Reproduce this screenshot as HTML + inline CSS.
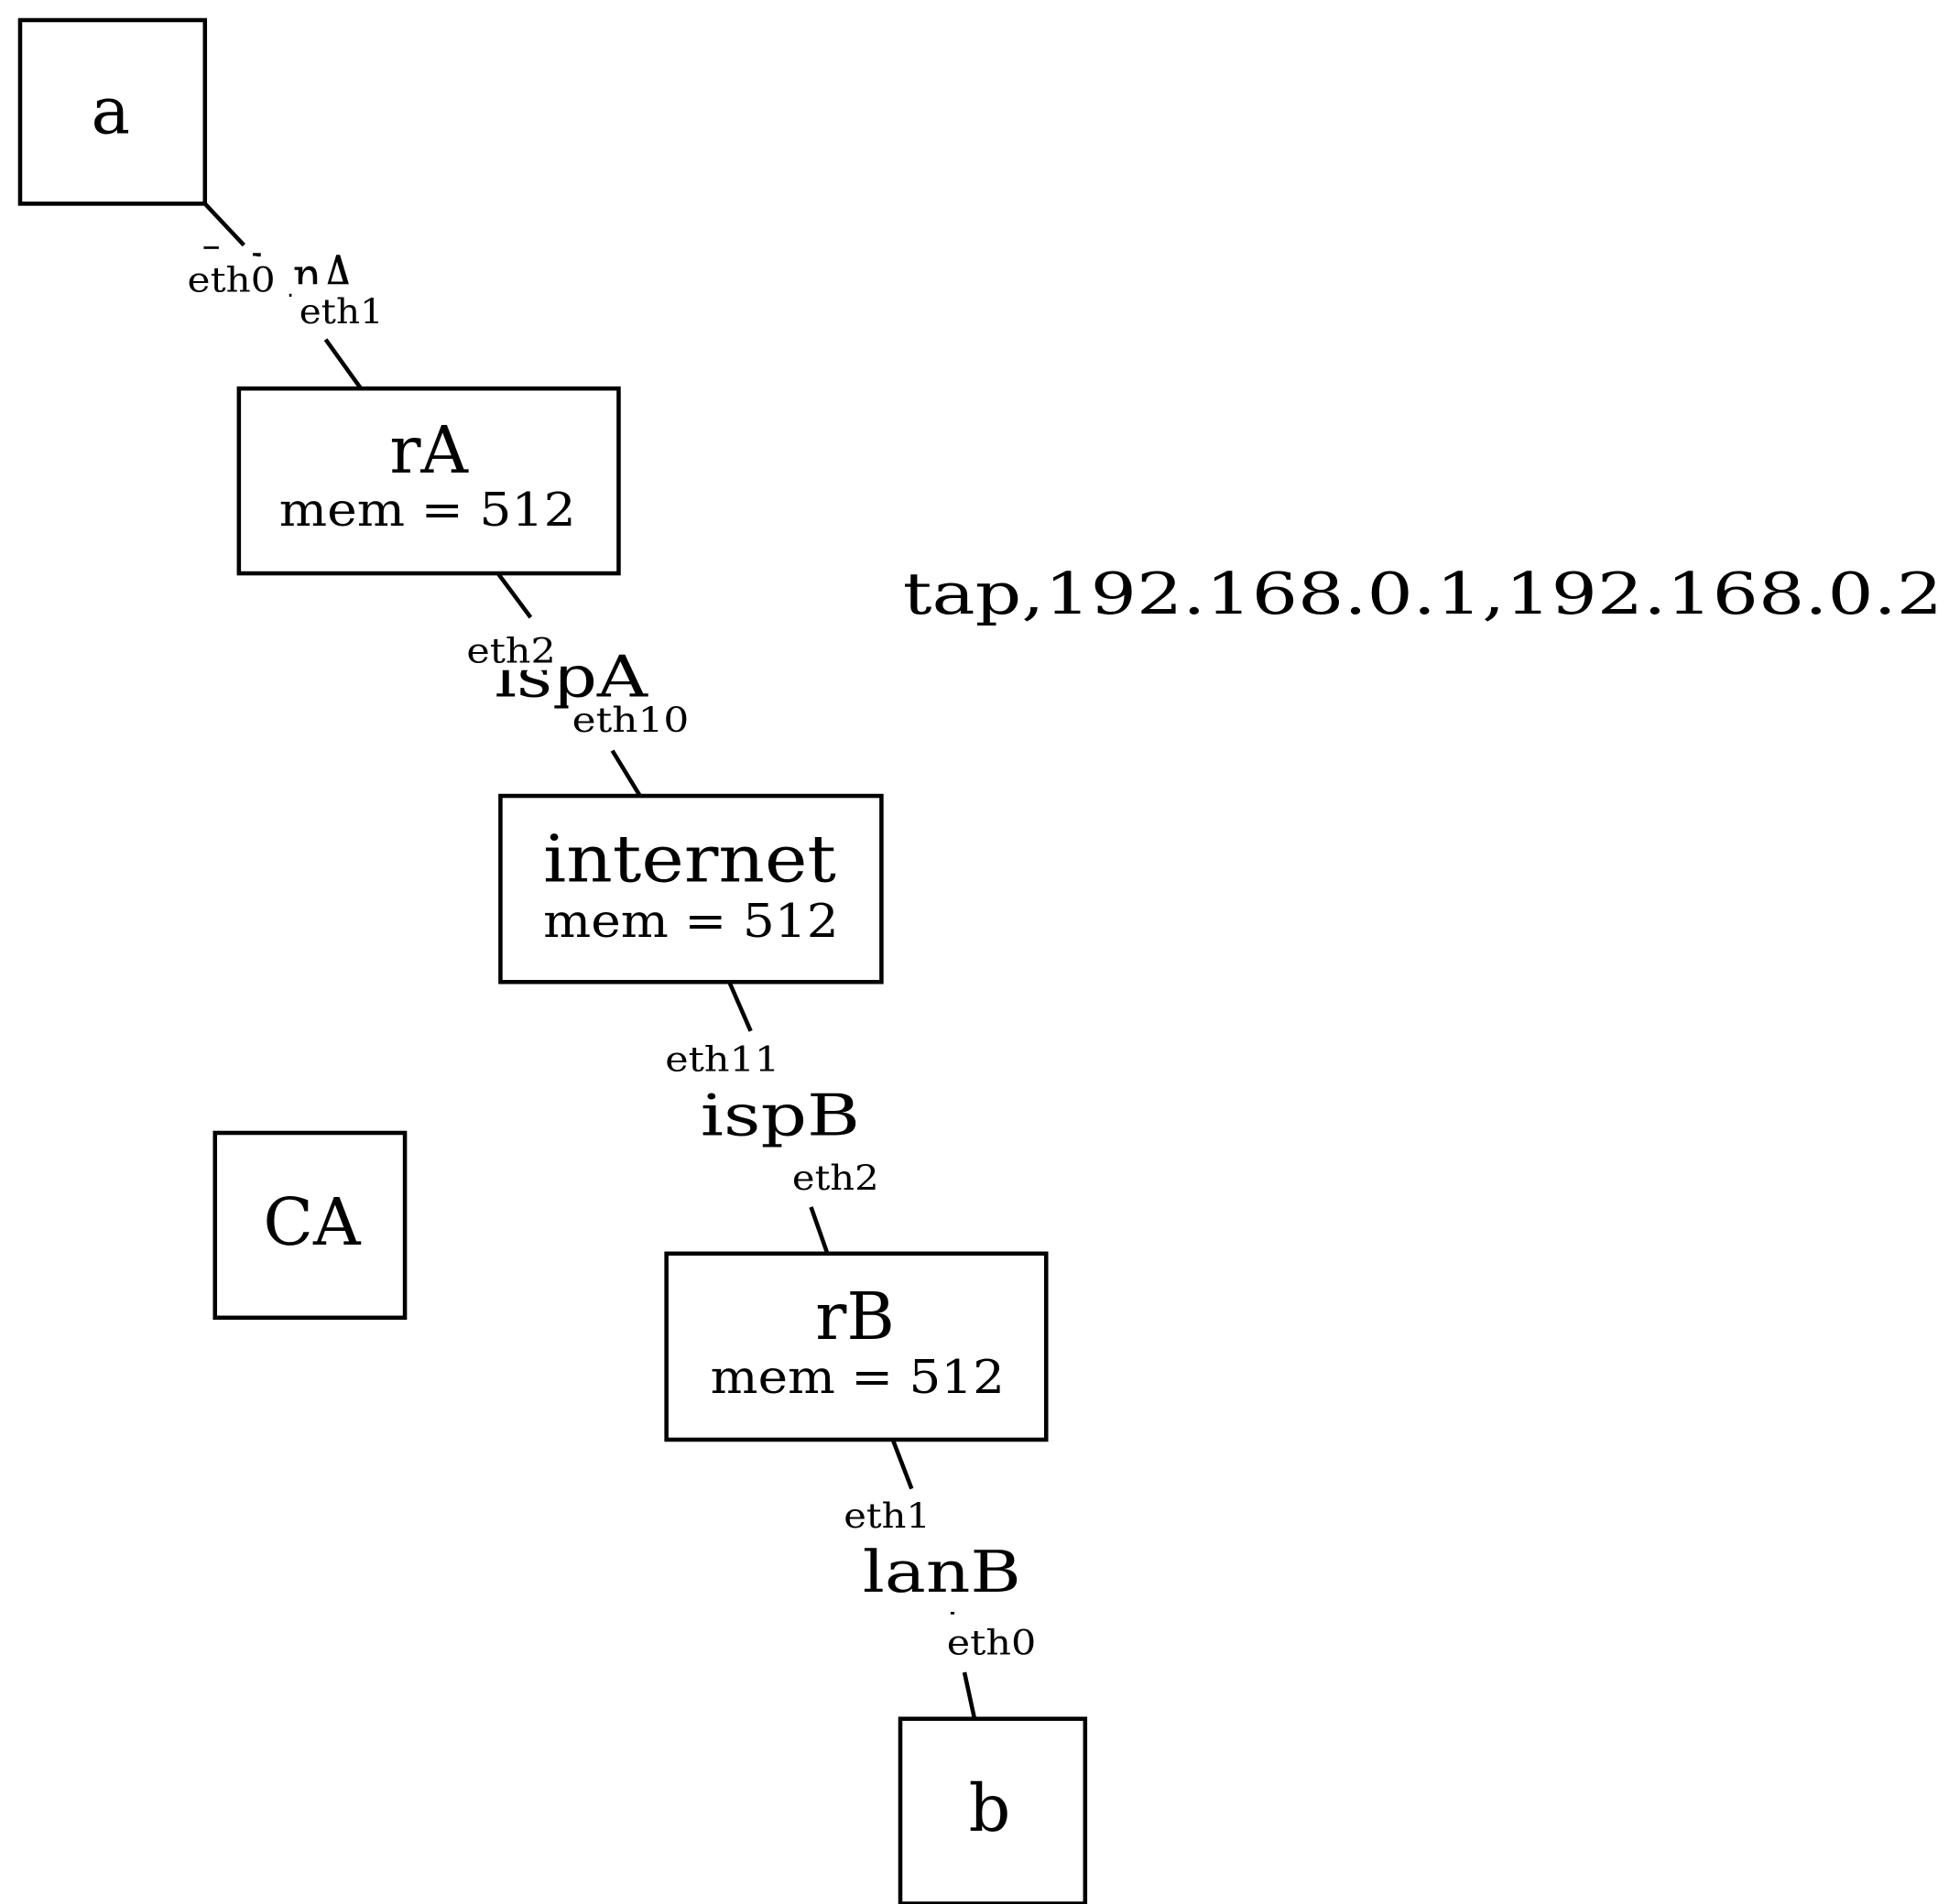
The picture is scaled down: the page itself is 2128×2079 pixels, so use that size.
<!DOCTYPE html>
<html><head><meta charset="utf-8"><style>html,body{margin:0;padding:0;background:#fff}svg{display:block}</style></head>
<body>
<svg width="2128" height="2079" viewBox="0 0 1550 1514.3" xmlns="http://www.w3.org/2000/svg" font-family="'DejaVu Serif','Liberation Serif',serif">
<rect width="1550" height="1515" fill="#fff"/>
<g stroke="#000" stroke-width="3.3" fill="none">
<rect x="16" y="16" width="147" height="146"/>
<rect x="190" y="309" width="302" height="147"/>
<rect x="398" y="633" width="303" height="148"/>
<rect x="171" y="901" width="151" height="147"/>
<rect x="530" y="997" width="302" height="148"/>
<rect x="716" y="1367" width="147" height="147"/>
<line x1="163" y1="162" x2="194" y2="195"/>
<line x1="259" y1="270" x2="287" y2="309"/>
<line x1="396" y1="456" x2="422" y2="491"/>
<line x1="487" y1="597" x2="509" y2="633"/>
<line x1="580" y1="781" x2="597" y2="820"/>
<line x1="645" y1="960" x2="658" y2="997"/>
<line x1="710" y1="1145" x2="725" y2="1184"/>
<line x1="767" y1="1330" x2="775" y2="1367"/>
</g>
<g fill="#000">
<text x="200" y="236" font-size="46" textLength="82" lengthAdjust="spacingAndGlyphs">lanA</text>
<rect x="145" y="204" width="85" height="34" fill="#fff"/>
<rect x="232" y="226" width="80" height="36" fill="#fff"/>
<rect x="162" y="196" width="12" height="2"/>
<text x="149" y="232" font-size="27" textLength="70" lengthAdjust="spacingAndGlyphs">eth0</text>
<text x="238" y="257" font-size="27" textLength="67" lengthAdjust="spacingAndGlyphs">eth1</text>

<text x="393" y="554" font-size="46" textLength="122" lengthAdjust="spacingAndGlyphs">ispA</text>
<rect x="368" y="500" width="78" height="33" fill="#fff"/>
<rect x="452" y="557" width="100" height="30" fill="#fff"/>
<text x="371" y="527" font-size="27" textLength="71" lengthAdjust="spacingAndGlyphs">eth2</text>
<text x="455" y="582" font-size="27" textLength="93" lengthAdjust="spacingAndGlyphs">eth10</text>

<text x="529" y="852" font-size="27" textLength="91" lengthAdjust="spacingAndGlyphs">eth11</text>
<text x="557" y="903" font-size="46" textLength="127" lengthAdjust="spacingAndGlyphs">ispB</text>
<text x="630" y="946" font-size="27" textLength="69" lengthAdjust="spacingAndGlyphs">eth2</text>

<text x="671" y="1215" font-size="27" textLength="69" lengthAdjust="spacingAndGlyphs">eth1</text>
<text x="686" y="1266" font-size="46" textLength="126" lengthAdjust="spacingAndGlyphs">lanB</text>
<rect x="756" y="1282" width="3" height="2"/>
<text x="753" y="1316" font-size="27" textLength="71" lengthAdjust="spacingAndGlyphs">eth0</text>

<text x="88" y="106" font-size="52" text-anchor="middle">a</text>
<text x="341" y="376" font-size="52" text-anchor="middle">rA</text>
<text x="222" y="418" font-size="37" textLength="236" lengthAdjust="spacingAndGlyphs">mem = 512</text>
<text x="432" y="701" font-size="52" textLength="233" lengthAdjust="spacingAndGlyphs">internet</text>
<text x="432" y="745" font-size="37" textLength="235" lengthAdjust="spacingAndGlyphs">mem = 512</text>
<text x="248" y="990" font-size="52" text-anchor="middle">CA</text>
<text x="680" y="1065" font-size="52" text-anchor="middle">rB</text>
<text x="565" y="1108" font-size="37" textLength="234" lengthAdjust="spacingAndGlyphs">mem = 512</text>
<text x="787" y="1456" font-size="52" text-anchor="middle">b</text>
<text x="718" y="488" font-size="46" textLength="827" lengthAdjust="spacingAndGlyphs">tap,192.168.0.1,192.168.0.2</text>
</g>
</svg>
</body></html>
